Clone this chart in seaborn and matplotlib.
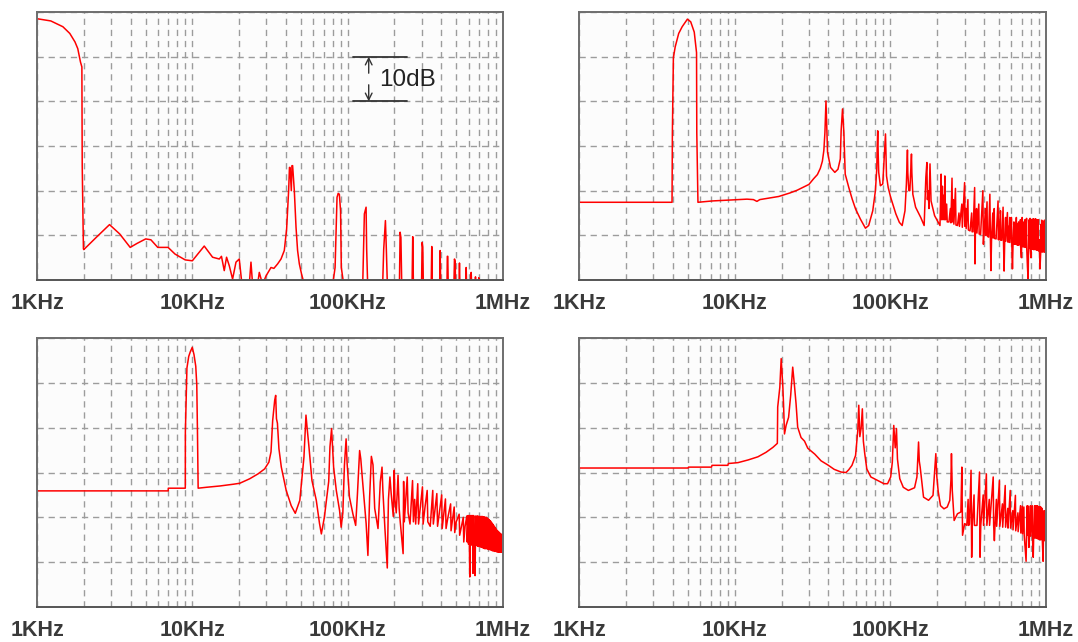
import matplotlib
matplotlib.use("Agg")
import matplotlib.pyplot as plt
import seaborn as sns
import pandas as pd
from matplotlib.ticker import FixedLocator, NullFormatter

# ---------------- data (frequency in kHz, level in dB, 10 dB per division) -------------
tick_values = [1, 10, 100, 1000]
tick_labels = ["1KHz", "10KHz", "100KHz", "1MHz"]
minor_values = [2, 3, 4, 5, 6, 7, 8, 9, 20, 30, 40, 50, 60, 70, 80, 90,
                200, 300, 400, 500, 600, 700, 800, 900]
level_grid = [0, 10, 20, 30, 40, 50, 60]

panel1 = [(1.0, 58.5), (1.227, 58.0), (1.468, 56.7), (1.626, 55.2), (1.756, 53.3), (1.83, 51.8),
          (1.905, 48.8), (1.945, 47.7), (1.955, 25.6), (1.99, 7.0), (2.0, 6.8), (2.4, 9.5),
          (2.93, 12.4), (3.41, 10.3), (3.98, 7.3), (4.41, 8.2), (5.01, 9.2), (5.41, 9.0),
          (5.99, 7.3), (6.98, 7.3), (7.74, 5.8), (9.0, 4.5), (10.0, 4.3), (11.93, 7.6),
          (13.5, 5.1), (14.91, 4.7), (15.4, 5.3), (16.05, 2.1), (16.61, 5.1), (17.29, 3.2),
          (18.16, 0.2), (19.1, 4.0), (20.05, 4.7), (20.87, -1.0), (23.26, -1.0), (23.85, 4.0),
          (24.43, -1.0), (26.31, -1.0), (26.98, 1.7), (28.34, -1.0), (29.8, 0.9), (32.09, 2.8),
          (33.5, 2.6), (35.4, 3.6), (37.23, 4.7), (39.09, 6.6), (40.46, 11.4), (41.68, 20.0),
          (42.2, 25.2), (42.56, 25.2), (43.37, 20.0), (43.8, 25.6), (44.22, 25.6), (45.35, 20.0),
          (46.51, 11.8), (47.6, 6.6), (48.85, 3.6), (50.5, 1.3), (52.6, -1.0),
          (80.1, -1.0), (83.0, 2.8), (85.4, 18.5), (86.9, 19.4), (88.4, 19.2), (90.0, 15.5),
          (91.0, 2.8), (94.3, -1.0),
          (125.0, -1.0), (128.1, 14.8), (131.4, 16.3), (132.5, 7.0), (134.5, -1.0),
          (168.0, -1.0), (170.6, 6.9), (175.0, 13.3), (177.4, 6.9), (180.1, -1.0),
          (215.4, -1.0), (217.6, 10.7), (220.2, 9.5), (222.9, -1.0),
          (259.8, -1.0), (262.3, 9.7), (265.0, -1.0),
          (299.0, -1.0), (301.6, 8.4), (304.6, 7.3), (307.0, -1.0),
          (345.0, -1.0), (347.8, 7.5), (350.5, -1.0),
          (391.0, -1.0), (393.9, 6.6), (397.0, -1.0),
          (436.0, -1.0), (438.0, 5.3), (441.0, 5.3), (444.0, -1.0),
          (483.0, -1.0), (487.0, 4.7), (492.0, 4.2), (495.0, -1.0),
          (521.0, -1.0), (524.5, 3.8), (528.0, -1.0),
          (575.0, -1.0), (579.4, 2.8), (583.0, -1.0),
          (620.0, -1.0), (624.0, 1.7), (628.0, -1.0),
          (661.0, -1.0), (665.0, 0.7), (669.0, -1.0),
          (695.0, -1.0), (698.6, 0.5), (702.0, -1.0), (1000.0, -1.0)]

panel2 = [(1.0, 17.4), (3.96, 17.4), (3.98, 33.0), (4.04, 49.8), (4.15, 52.2), (4.37, 55.2),
          (4.60, 56.7), (4.97, 58.4), (5.22, 57.8), (5.50, 55.5), (5.69, 50.9), (5.71, 33.0),
          (5.81, 17.4), (7.19, 17.7), (12.0, 18.1), (13.2, 18.0), (13.9, 17.6), (14.5, 18.0),
          (19.2, 18.7), (22.7, 19.5), (25.2, 20.1), (28.5, 21.0), (30.0, 21.4), (32.2, 22.7),
          (34.0, 23.6), (35.5, 25.0), (36.6, 26.6), (37.4, 29.0), (38.0, 33.0), (38.6, 40.1),
          (39.1, 34.0), (39.5, 28.6), (41.3, 25.2), (44.0, 24.1), (46.1, 24.8), (47.7, 27.1),
          (48.3, 33.4), (49.3, 38.3), (50.3, 33.0), (51.3, 23.7), (54.1, 20.7), (56.9, 18.1),
          (59.8, 15.9), (64.3, 13.6), (69.2, 11.6), (72.6, 12.2), (77.1, 15.5), (80.2, 20.0),
          (81.8, 24.8), (82.4, 30.0), (83.0, 33.4), (83.6, 28.0), (84.2, 24.1), (86.3, 21.1),
          (89.4, 21.5), (91.7, 28.6), (93.1, 32.7), (93.8, 28.0), (94.5, 23.3), (96.9, 20.7),
          (100.5, 18.5), (108.5, 14.8), (114.3, 12.9), (119.1, 12.2), (124.2, 15.5),
          (126.8, 21.5), (128.8, 29.1), (129.5, 24.0), (131.5, 20.0), (133.5, 20.0),
          (136.7, 28.2), (137.5, 24.0), (139.5, 19.2), (145.3, 16.3), (156.8, 14.0),
          (164.9, 12.2), (169.1, 23.0), (171.7, 26.3), (173.0, 18.0), (175.2, 20.0),
          (177.0, 16.0), (179.8, 26.0), (182.6, 17.7), (192.5, 14.4), (208.4, 12.2),
          (212.0, 23.7), (213.5, 13.5), (216.0, 21.0), (218.0, 13.5), (221.0, 19.0),
          (222.5, 13.5), (224.0, 23.3), (226.0, 13.5), (230.0, 17.0), (232.0, 13.0),
          (238.0, 13.0), (243.0, 16.0), (245.0, 12.8), (249.0, 22.8), (251.0, 13.0),
          (254.0, 18.0), (256.0, 12.5), (262.0, 20.5), (264.0, 12.3), (270.0, 12.2),
          (276.0, 15.0), (278.0, 12.0), (288.0, 17.0), (290.0, 11.8), (300.0, 21.8),
          (302.0, 12.0), (305.0, 16.0), (307.0, 11.5), (315.0, 18.0), (317.0, 11.2),
          (325.0, 11.0), (333.0, 15.0), (335.0, 10.8), (340.0, 10.8), (348.0, 20.7),
          (350.0, 3.6), (352.0, 11.0), (358.0, 16.0), (360.0, 10.5), (370.0, 17.0),
          (372.0, 10.3), (380.0, 10.2), (393.0, 20.0), (396.0, 8.0), (400.0, 10.5),
          (408.0, 16.0), (410.0, 10.0), (418.0, 17.5), (420.0, 9.8), (428.0, 9.6),
          (436.0, 19.2), (439.0, 10.0), (443.0, 2.1), (447.0, 9.5), (455.0, 15.0),
          (457.0, 9.4), (465.0, 16.0), (467.0, 9.3), (478.0, 9.2), (492.0, 17.7),
          (495.0, 9.0), (500.0, 13.0), (502.0, 9.0), (510.0, 15.5), (512.0, 8.9),
          (520.0, 8.9), (530.0, 16.3), (533.0, 9.0), (538.0, 2.0), (543.0, 8.8),
          (550.0, 14.0), (552.0, 8.7), (565.0, 15.1), (568.0, 8.5), (575.0, 12.0),
          (577.0, 8.5), (585.0, 14.0), (587.0, 8.4), (600.0, 14.0), (603.0, 8.3),
          (609.0, 2.5), (614.0, 8.1), (622.0, 13.0), (624.0, 8.0), (633.0, 12.5),
          (635.0, 8.0), (645.0, 14.0), (648.0, 7.9), (655.0, 12.5), (657.0, 7.8),
          (667.0, 13.0), (669.0, 7.8), (680.0, 9.5), (685.0, 13.5), (687.0, 7.6),
          (695.0, 5.0), (703.0, 14.0), (705.0, 7.5), (713.0, 13.0), (715.0, 7.4),
          (725.0, 7.5), (733.0, 13.5), (735.0, 7.3), (742.0, 11.0), (750.0, 13.8),
          (752.0, 7.2), (760.0, 3.0), (768.0, 0.0), (772.0, 7.2), (780.0, 13.5),
          (782.0, 7.1), (790.0, 13.8), (792.0, 7.0), (800.0, 5.0), (808.0, 13.5),
          (810.0, 7.0), (820.0, 13.6), (822.0, 6.9), (830.0, 13.7), (832.0, 6.8),
          (840.0, 10.0), (845.0, 13.6), (847.0, 6.8), (858.0, 13.7), (860.0, 6.8),
          (868.0, 13.0), (870.0, 6.7), (880.0, 13.5), (882.0, 6.7), (893.0, 13.5),
          (895.0, 6.5), (905.0, 9.0), (915.0, 2.5), (925.0, 6.4), (932.0, 12.5),
          (934.0, 6.4), (939.0, 13.4), (941.0, 6.3), (950.0, 12.0), (952.0, 6.3),
          (960.0, 13.0), (962.0, 6.3), (970.0, 10.0), (977.0, 13.4), (979.0, 6.3),
          (985.0, 12.0), (990.0, 6.2), (995.0, 11.0), (1000.0, 7.0)]

panel3 = [(1.0, 25.9), (6.99, 25.9), (7.0, 26.5), (9.01, 26.5), (9.02, 39.1), (9.23, 53.3),
          (9.48, 55.9), (9.72, 57.0), (9.99, 57.9), (10.25, 56.3), (10.52, 53.7), (10.68, 49.6),
          (10.79, 39.1), (10.9, 26.5), (12.3, 26.7), (15.1, 27.0), (18.5, 27.4), (20.2, 27.6),
          (23.4, 28.6), (26.5, 29.7), (29.2, 30.8), (31.1, 32.3), (32.1, 34.6), (32.9, 41.6),
          (33.9, 46.1), (34.4, 47.2), (34.8, 42.0), (35.3, 41.0), (36.1, 35.3), (37.4, 31.2),
          (40.2, 26.0), (43.3, 22.6), (46.0, 20.9), (49.2, 23.8), (52.3, 33.4), (53.9, 42.8),
          (54.8, 40.0), (56.2, 36.1), (58.9, 28.2), (62.8, 23.8), (65.9, 18.6), (67.7, 16.3),
          (70.8, 20.0), (75.5, 28.0), (76.9, 35.7), (78.8, 39.8), (79.9, 36.0), (81.2, 31.2),
          (84.5, 26.0), (88.7, 21.5), (90.8, 17.8), (93.1, 21.0), (95.3, 31.6), (97.7, 37.5),
          (99.2, 32.0), (102.7, 24.5), (108.0, 20.8), (112.6, 18.2), (115.5, 25.0),
          (119.4, 34.9), (121.5, 33.0), (124.1, 29.0), (128.8, 22.3), (131.5, 18.6),
          (135.0, 11.5), (138.5, 24.6), (142.1, 33.6), (145.6, 31.7), (149.3, 22.0),
          (156.8, 17.5), (162.2, 27.9), (166.4, 31.2), (168.5, 26.0), (173.7, 17.5),
          (179.9, 8.7), (183.0, 24.0), (187.1, 29.0), (190.5, 25.4), (196.6, 20.2),
          (199.5, 30.5), (201.5, 24.0), (205.5, 21.0), (211.0, 29.4), (214.5, 22.0),
          (218.0, 19.0), (227.5, 11.9), (229.2, 28.0), (231.5, 19.0), (241.8, 29.0),
          (245.0, 21.0), (252.0, 18.5), (261.6, 28.2), (265.0, 19.0), (270.0, 24.0),
          (274.0, 18.5), (282.6, 27.5), (286.0, 18.5), (303.0, 26.8), (306.0, 18.5),
          (314.0, 22.0), (325.0, 26.0), (328.0, 19.0), (340.0, 18.0), (353.0, 26.0),
          (356.0, 18.5), (375.0, 25.3), (379.0, 18.0), (403.0, 25.0), (406.0, 17.5),
          (426.0, 24.1), (430.0, 17.5), (442.0, 20.0), (460.0, 23.0), (463.0, 17.0),
          (485.0, 22.3), (489.0, 16.6), (500.0, 19.0), (522.0, 20.7), (526.0, 16.0),
          (555.0, 20.0), (559.0, 14.5), (570.0, 18.0), (585.0, 20.3), (588.0, 14.5),
          (597.0, 20.4), (600.0, 14.0), (605.0, 20.4), (611.0, 6.7), (616.0, 20.4),
          (620.0, 14.0), (626.0, 20.4), (630.0, 13.8), (636.0, 20.4), (641.0, 7.5),
          (647.0, 20.4), (652.0, 13.8), (655.0, 8.5), (661.0, 7.0), (667.0, 20.3),
          (672.0, 13.8), (680.0, 20.3), (684.0, 13.6), (690.0, 20.3), (695.0, 13.5),
          (702.0, 20.2), (706.0, 13.5), (712.0, 20.2), (717.0, 13.4), (724.0, 20.2),
          (728.0, 13.3), (735.0, 20.2), (740.0, 13.2), (747.0, 20.1), (752.0, 13.1),
          (758.0, 20.1), (763.0, 13.0), (770.0, 20.0), (775.0, 13.0), (782.0, 20.0),
          (787.0, 13.0), (794.0, 19.8), (799.0, 12.9), (806.0, 19.6), (811.0, 12.8),
          (818.0, 19.4), (823.0, 12.8), (830.0, 19.2), (835.0, 12.7), (843.0, 18.9),
          (848.0, 12.6), (855.0, 18.6), (860.0, 12.5), (867.0, 18.3), (872.0, 12.5),
          (880.0, 18.0), (885.0, 12.4), (892.0, 17.7), (897.0, 12.4), (905.0, 17.4),
          (910.0, 12.3), (917.0, 17.1), (922.0, 12.3), (930.0, 16.9), (935.0, 12.2),
          (943.0, 16.7), (948.0, 12.2), (955.0, 16.5), (960.0, 12.2), (967.0, 16.3),
          (972.0, 12.2), (980.0, 16.2), (985.0, 12.2), (992.0, 16.0), (996.0, 12.3),
          (1000.0, 12.5)]

panel4 = [(1.0, 31.0), (5.02, 31.0), (5.05, 31.2), (7.1, 31.2), (7.15, 31.6), (9.05, 31.6),
          (9.1, 32.0), (10.5, 32.2), (12.2, 32.8), (14.1, 33.5), (15.9, 34.5), (17.6, 35.6),
          (18.8, 36.5), (18.9, 44.6), (19.5, 49.0), (19.9, 55.4), (20.4, 49.0), (20.6, 45.3),
          (20.9, 38.6), (21.4, 40.5), (22.2, 42.3), (22.9, 47.2), (23.6, 53.5), (24.2, 49.5),
          (24.8, 45.3), (25.4, 40.1), (26.7, 37.8), (28.1, 37.0), (29.5, 35.4), (32.7, 34.1),
          (35.9, 32.6), (39.6, 31.7), (43.6, 30.7), (48.3, 30.1), (51.9, 30.0), (54.0, 30.6),
          (56.7, 31.6), (59.8, 33.8), (61.8, 39.4), (62.7, 45.0), (63.7, 38.0), (65.0, 40.1),
          (66.1, 44.2), (67.1, 37.0), (68.5, 34.2), (70.6, 30.8), (75.0, 29.0), (83.3, 28.2),
          (91.0, 27.5), (96.0, 27.5), (100.5, 29.0), (103.0, 32.3), (105.2, 40.5),
          (107.5, 35.5), (109.5, 39.8), (111.1, 33.0), (115.0, 28.6), (121.1, 26.7),
          (130.6, 26.0), (143.1, 26.6), (148.2, 29.0), (151.8, 36.8), (153.5, 32.5),
          (155.5, 31.2), (163.4, 24.5), (176.0, 23.8), (188.0, 24.9), (193.0, 30.8),
          (196.0, 34.2), (199.0, 29.0), (203.0, 25.8), (210.0, 22.6), (221.0, 21.9),
          (232.0, 22.3), (241.0, 23.8), (245.0, 28.2), (247.0, 34.2), (250.0, 26.0),
          (257.0, 19.3), (270.0, 20.8), (284.0, 21.2), (288.0, 31.2), (291.0, 16.0),
          (300.0, 18.6), (310.0, 18.2), (316.0, 24.0), (318.0, 18.2), (322.0, 18.4),
          (330.0, 30.5), (333.0, 11.1), (336.0, 18.2), (345.0, 25.0), (347.0, 18.2),
          (360.0, 18.2), (374.0, 30.1), (377.0, 11.1), (381.0, 18.2), (395.0, 25.0),
          (397.0, 18.2), (414.0, 29.7), (417.0, 18.2), (432.0, 24.0), (434.0, 18.2),
          (458.0, 29.0), (461.0, 18.2), (466.0, 14.8), (470.0, 18.0), (480.0, 24.0),
          (482.0, 18.0), (502.0, 28.2), (505.0, 18.0), (525.0, 23.0), (527.0, 17.8),
          (547.0, 27.1), (550.0, 17.8), (568.0, 22.0), (570.0, 17.6), (589.0, 26.0),
          (592.0, 17.6), (612.0, 21.5), (614.0, 17.2), (636.0, 24.9), (639.0, 17.0),
          (660.0, 21.0), (662.0, 16.8), (686.0, 22.6), (689.0, 16.5), (704.0, 22.5),
          (706.0, 16.3), (721.0, 22.3), (724.0, 16.2), (735.0, 13.0), (745.0, 10.2),
          (750.0, 16.2), (758.0, 22.6), (761.0, 16.0), (770.0, 22.5), (772.0, 16.0),
          (777.0, 13.3), (782.0, 16.0), (795.0, 22.6), (797.0, 15.8), (816.0, 22.6),
          (819.0, 15.5), (828.0, 11.1), (833.0, 15.5), (845.0, 22.6), (847.0, 15.4),
          (864.0, 22.6), (866.0, 15.3), (881.0, 22.6), (884.0, 15.2), (900.0, 22.4),
          (902.0, 15.1), (915.0, 22.4), (917.0, 15.0), (926.0, 22.3), (929.0, 15.0),
          (945.0, 22.0), (947.0, 15.0), (958.0, 10.2), (962.0, 14.9), (973.0, 21.5),
          (976.0, 14.8), (988.0, 21.3), (990.0, 14.8), (1000.0, 21.2)]

panels = [panel1, panel2, panel3, panel4]

# ---------------- figure ----------------
sns.set_theme(style="white")
plt.rcParams["font.family"] = ["Liberation Sans", "DejaVu Sans"]

W, H = 1078, 642
fig = plt.figure(figsize=(W / 100, H / 100), dpi=100, facecolor="white")
boxes = [(37, 12, 503, 280), (579, 12, 1046, 280), (37, 338, 503, 607), (579, 338, 1046, 607)]

frame_col = "#6e6e6e"
grid_col = "#9c9c9c"

for box, data in zip(boxes, panels):
    x0, y0, x1, y1 = box
    ax = fig.add_axes([x0 / W, 1 - y1 / H, (x1 - x0) / W, (y1 - y0) / H])
    ax.set_facecolor("#fcfcfc")
    ax.set_xscale("log")
    df = pd.DataFrame(data, columns=["freq", "level"])
    sns.lineplot(data=df, x="freq", y="level", sort=False, estimator=None,
                 color="#ff0000", linewidth=1.1, ax=ax)
    ax.set_xlim(1, 1000)
    ax.set_ylim(0, 60)
    ax.set_xlabel("")
    ax.set_ylabel("")
    ax.set_xticks(tick_values)
    ax.set_xticklabels(tick_labels, fontsize=15.5, fontweight="bold", color="#3a3a3a")
    ax.xaxis.set_minor_locator(FixedLocator(minor_values))
    ax.xaxis.set_minor_formatter(NullFormatter())
    ax.set_yticks(level_grid)
    ax.set_yticklabels([])
    ax.tick_params(axis="y", length=0)
    ax.tick_params(axis="x", which="major", direction="out", length=5, width=1.2,
                   color=frame_col, pad=4)
    ax.tick_params(axis="x", which="minor", direction="inout", length=5, width=1.0,
                   color=frame_col)
    ax.set_axisbelow(True)
    ax.grid(True, which="both", axis="x", linestyle=(0, (4.5, 3.5)), color=grid_col, linewidth=1.0)
    ax.grid(True, which="major", axis="y", linestyle=(0, (4.5, 3.5)), color=grid_col, linewidth=1.0)
    for side, sp in ax.spines.items():
        sp.set_visible(True)
        sp.set_color(frame_col)
        sp.set_linewidth(1.4)
    ax.spines["bottom"].set_color("#555555")

    if data is panel1:
        ann_col = "#333333"
        ax.plot([108.8, 242.5], [50, 50], color=ann_col, lw=1.3)
        ax.plot([108.8, 242.5], [40, 40], color=ann_col, lw=1.3)
        ax.annotate("", xy=(136.6, 50), xytext=(136.6, 46.3),
                    arrowprops=dict(arrowstyle="->", color=ann_col, lw=1.0, shrinkA=0, shrinkB=0))
        ax.annotate("", xy=(136.6, 40), xytext=(136.6, 43.7),
                    arrowprops=dict(arrowstyle="->", color=ann_col, lw=1.0, shrinkA=0, shrinkB=0))
        ax.text(158.4, 44.8, "10dB", fontsize=17.5, color="#222222", ha="left", va="center")

fig.savefig("out.png", dpi=100, facecolor="white")
